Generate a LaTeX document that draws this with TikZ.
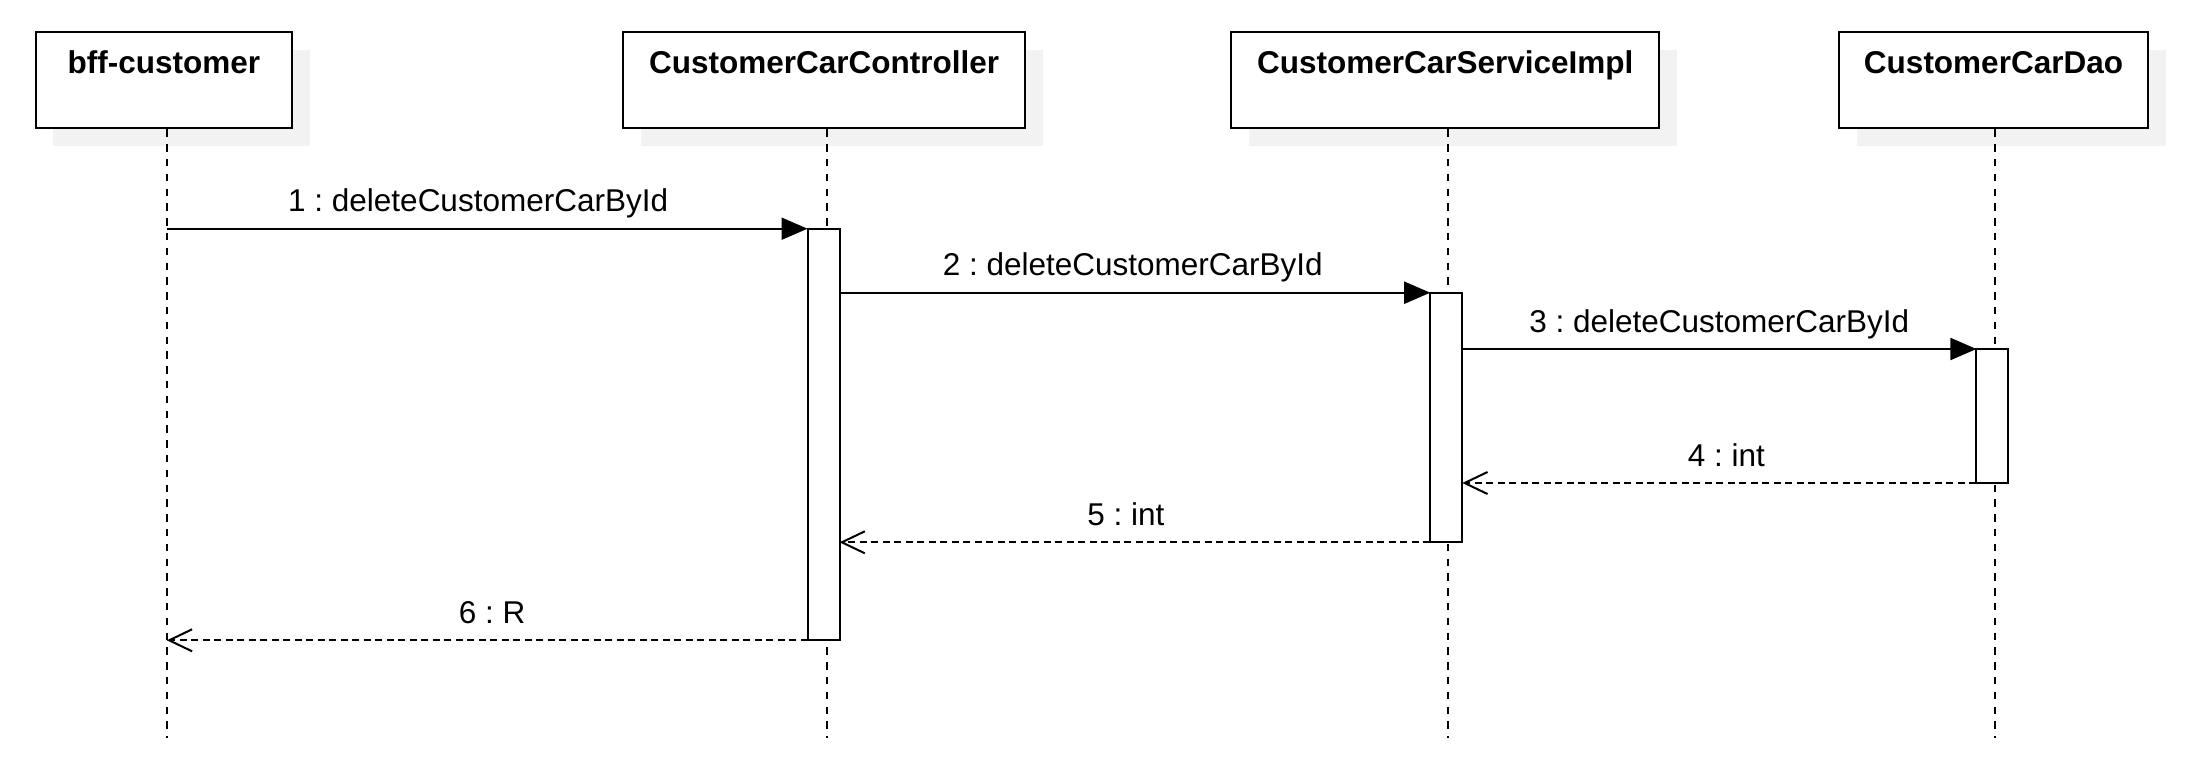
\documentclass[tikz,border=0pt]{standalone}
\usepackage{fontspec}
\setmainfont{Liberation Sans}
\usetikzlibrary{arrows.meta,shadows}
\frenchspacing
\begin{document}
\begin{tikzpicture}[x=1pt,y=-1pt,
  txt/.style={font=\fontsize{31.5}{38}\selectfont, inner sep=0pt},
  hdr/.style={font=\fontsize{31.5}{38}\selectfont\bfseries, inner sep=0pt, anchor=base},
  actor/.style={draw, line width=2pt, fill=white, minimum height=96pt, inner sep=0pt, outer sep=0pt,
    general shadow={shadow xshift=17.5pt, shadow yshift=-17.5pt, fill=black!5}},
  bar/.style={draw, line width=2pt, fill=white, minimum width=32pt, inner sep=0pt, outer sep=0pt},
  life/.style={line width=2pt, dash pattern=on 7.4pt off 7.4pt},
  call/.style={line width=2pt, -{Triangle[length=26pt,width=22pt]}},
  ret/.style={line width=2pt, dash pattern=on 7pt off 4.5pt, -{Straight Barb[length=23pt,width=22pt,line width=2pt]}},
  lbl/.style={txt, anchor=base, midway, yshift=17pt}
]
\useasboundingbox (0,0) rectangle (2194,765);

% actor boxes
\node[actor, minimum width=256.6pt] (b1) at (164,80.3) {};
\node[actor, minimum width=401.7pt] (b2) at (824.2,80.3) {};
\node[actor, minimum width=428.3pt] (b3) at (1445.2,80.3) {};
\node[actor, minimum width=309pt] (b4) at (1993.5,80.3) {};
\node[hdr] (h1) at ([yshift=-41.7pt]b1.north) {bff-customer};
\node[hdr] (h2) at ([yshift=-41.7pt]b2.north) {CustomerCarController};
\node[hdr] (h3) at ([yshift=-41.7pt]b3.north) {CustomerCarServiceImpl};
\node[hdr] (h4) at ([yshift=-41.7pt]b4.north) {CustomerCarDao};

% lifelines
\coordinate (l1t) at (166.8,129.3); \coordinate (l1b) at (166.8,738);
\coordinate (l2t) at (826.7,129.3); \coordinate (l2b) at (826.7,738);
\coordinate (l3t) at (1448.3,129.3); \coordinate (l3b) at (1448.3,738);
\coordinate (l4t) at (1995,129.3); \coordinate (l4b) at (1995,738);
\draw[life] (l1t) -- (l1b);
\draw[life] (l2t) -- (l2b);
\draw[life] (l3t) -- (l3b);
\draw[life] (l4t) -- (l4b);

% activation bars
\node[bar, minimum height=411.6pt] (a2) at (823.5,434.5) {};
\node[bar, minimum height=249.6pt] (a3) at (1446.2,417.5) {};
\node[bar, minimum height=134pt] (a4) at (1992.4,416) {};

% messages
\draw[call] (l1t |- a2.north west) -- (a2.north west)
  node[lbl, xshift=-9pt] {1 : deleteCustomerCarById};
\draw[call] (a2.east |- a3.north west) -- (a3.north west)
  node[lbl, xshift=-2pt] {2 : deleteCustomerCarById};
\draw[call] (a3.east |- a4.north west) -- (a4.north west)
  node[lbl] {3 : deleteCustomerCarById};
\draw[ret] (a4.south west) -- (a3.east |- a4.south west)
  node[lbl, xshift=7pt] {4 : int};
\draw[ret] (a3.south west) -- (a2.east |- a3.south west)
  node[lbl, xshift=-9pt] {5 : int};
\draw[ret] (a2.south west) -- (l1t |- a2.south west)
  node[lbl, xshift=5pt] {6 : R};
\end{tikzpicture}
\end{document}
